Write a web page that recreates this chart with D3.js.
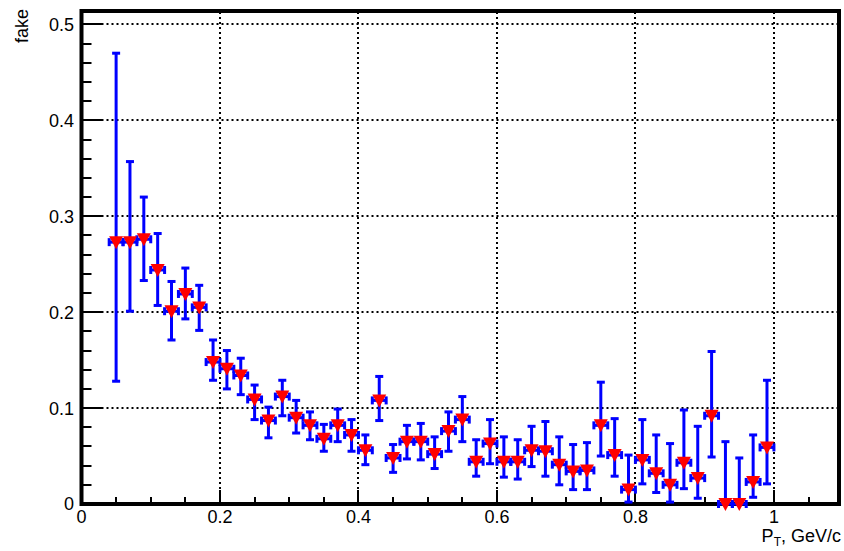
<!DOCTYPE html>
<html>
<head>
<meta charset="utf-8">
<script src="https://cdn.jsdelivr.net/npm/d3@7"></script>
<style>
  body { margin: 0; background: #fff; }
  svg text { font-family: "Liberation Sans", Arial, sans-serif; fill: #000; }
</style>
</head>
<body>
<div id="chart"></div>
<script>

// bin centres, pT in GeV/c
var pt = [0.05, 0.07, 0.09, 0.11, 0.13, 0.15, 0.17, 0.19, 0.21, 0.23, 0.25, 0.27,
          0.29, 0.31, 0.33, 0.35, 0.37, 0.39, 0.41, 0.43, 0.45, 0.47, 0.49, 0.51,
          0.53, 0.55, 0.57, 0.59, 0.61, 0.63, 0.65, 0.67, 0.69, 0.71, 0.73, 0.75,
          0.77, 0.79, 0.81, 0.83, 0.85, 0.87, 0.89, 0.91, 0.93, 0.95, 0.97, 0.99];

var fake = [0.273, 0.273, 0.276, 0.244, 0.201, 0.219, 0.205, 0.148, 0.141, 0.134, 0.109, 0.087,
            0.112, 0.090, 0.082, 0.068, 0.082, 0.072, 0.056, 0.108, 0.048, 0.065, 0.065, 0.052,
            0.076, 0.088, 0.044, 0.063, 0.044, 0.044, 0.056, 0.055, 0.041, 0.034, 0.035, 0.082,
            0.051, 0.015, 0.046, 0.032, 0.020, 0.043, 0.027, 0.092, 0.000, 0.000, 0.023, 0.059];

// upper / lower ends of the error bars
var fakeHigh = [0.470, 0.357, 0.320, 0.282, 0.232, 0.246, 0.228, 0.171, 0.160, 0.152, 0.124, 0.101,
                0.129, 0.108, 0.096, 0.083, 0.099, 0.088, 0.072, 0.133, 0.062, 0.082, 0.084, 0.070,
                0.096, 0.112, 0.067, 0.088, 0.070, 0.067, 0.081, 0.086, 0.070, 0.062, 0.064, 0.127,
                0.089, 0.051, 0.088, 0.072, 0.063, 0.098, 0.081, 0.159, 0.065, 0.048, 0.072, 0.129];

var fakeLow = [0.128, 0.201, 0.233, 0.207, 0.171, 0.193, 0.181, 0.129, 0.120, 0.114, 0.088, 0.069,
               0.092, 0.074, 0.067, 0.055, 0.065, 0.055, 0.041, 0.087, 0.033, 0.047, 0.046, 0.037,
               0.055, 0.065, 0.029, 0.042, 0.028, 0.026, 0.039, 0.029, 0.020, 0.015, 0.015, 0.050,
               0.029, 0.002, 0.021, 0.012, 0.002, 0.016, 0.006, 0.049, 0.000, 0.000, 0.007, 0.021];

var binHalf = 0.01;

var xMajor = [0, 0.2, 0.4, 0.6, 0.8, 1];
var xLabels = ["0", "0.2", "0.4", "0.6", "0.8", "1"];
var yMajor = [0, 0.1, 0.2, 0.3, 0.4, 0.5];
var yLabels = ["0", "0.1", "0.2", "0.3", "0.4", "0.5"];

var width = 844, height = 551;
var margin = {left: 81.5, right: 5, top: 11, bottom: 47};

var x = d3.scaleLinear().domain([0, 1.094]).range([margin.left, width - margin.right]);
var y = d3.scaleLinear().domain([0, 0.514]).range([height - margin.bottom, margin.top]);

var svg = d3.select("#chart").append("svg")
    .attr("width", width)
    .attr("height", height);

var x0 = x.range()[0], x1 = x.range()[1],
    y0 = y.range()[0], y1 = y.range()[1];

// dotted grid, snapped to whole pixels so the dots stay crisp
var grid = svg.append("g")
    .attr("stroke", "#000")
    .attr("stroke-width", 2)
    .attr("stroke-dasharray", "2,3");

grid.selectAll(".gx")
    .data(xMajor.filter(function (d) { return d > 0; }))
    .enter().append("line")
    .attr("x1", function (d) { return Math.round(x(d)); })
    .attr("x2", function (d) { return Math.round(x(d)); })
    .attr("y1", y0)
    .attr("y2", y1);

grid.selectAll(".gy")
    .data(yMajor.filter(function (d) { return d > 0; }))
    .enter().append("line")
    .attr("x1", x0)
    .attr("x2", x1)
    .attr("y1", function (d) { return Math.round(y(d)); })
    .attr("y2", function (d) { return Math.round(y(d)); });

// ticks, pointing inward
var xMinor = d3.range(0, 1.0801, 0.05);
var yMinor = d3.range(0, 0.5001, 0.02);

var ticks = svg.append("g").attr("stroke", "#000").attr("stroke-width", 2);

ticks.selectAll(".xt")
    .data(xMinor)
    .enter().append("line")
    .attr("x1", function (d) { return Math.round(x(d)); })
    .attr("x2", function (d) { return Math.round(x(d)); })
    .attr("y1", y0)
    .attr("y2", function (d) {
        var major = Math.abs(d * 5 - Math.round(d * 5)) < 1e-6;
        return y0 - (major ? 14 : 7);
    });

ticks.selectAll(".yt")
    .data(yMinor)
    .enter().append("line")
    .attr("y1", function (d) { return Math.round(y(d)); })
    .attr("y2", function (d) { return Math.round(y(d)); })
    .attr("x1", x0)
    .attr("x2", function (d) {
        var major = Math.abs(d * 10 - Math.round(d * 10)) < 1e-6;
        return x0 + (major ? 21 : 10);
    });

// frame
svg.append("rect")
    .attr("x", x0)
    .attr("y", y1)
    .attr("width", x1 - x0)
    .attr("height", y0 - y1)
    .attr("fill", "none")
    .attr("stroke", "#000")
    .attr("stroke-width", 4);

// tick labels
svg.selectAll(".xl")
    .data(xMajor)
    .enter().append("text")
    .attr("x", function (d) { return x(d); })
    .attr("y", 523)
    .attr("text-anchor", "middle")
    .attr("font-size", 18)
    .text(function (d, i) { return xLabels[i]; });

svg.selectAll(".yl")
    .data(yMajor)
    .enter().append("text")
    .attr("x", 74)
    .attr("y", function (d) { return y(d); })
    .attr("dy", "0.36em")
    .attr("text-anchor", "end")
    .attr("font-size", 18)
    .text(function (d, i) { return yLabels[i]; });

// axis titles
svg.append("text")
    .attr("transform", "translate(28,9) rotate(-90)")
    .attr("text-anchor", "end")
    .attr("font-size", 18)
    .text("fake");

var xt = svg.append("text")
    .attr("x", 841)
    .attr("y", 542)
    .attr("text-anchor", "end")
    .attr("font-size", 18);
xt.append("tspan").text("P");
xt.append("tspan").attr("font-size", 12).attr("dy", 4).text("T");
xt.append("tspan").attr("dy", -4).text(", GeV/c");

// error bars
var pts = pt.map(function (d, i) {
    return {x: d, y: fake[i], lo: fakeLow[i], hi: fakeHigh[i]};
});

var err = svg.append("g").attr("stroke", "#0000ff").attr("fill", "#0000ff");

var eb = err.selectAll(".e").data(pts).enter().append("g");

eb.append("line")
    .attr("stroke-width", 3)
    .attr("x1", function (d) { return x(d.x); })
    .attr("x2", function (d) { return x(d.x); })
    .attr("y1", function (d) { return y(d.lo); })
    .attr("y2", function (d) { return y(d.hi); });

eb.append("line")
    .attr("stroke-width", 3)
    .attr("x1", function (d) { return x(d.x - binHalf); })
    .attr("x2", function (d) { return x(d.x + binHalf); })
    .attr("y1", function (d) { return y(d.y); })
    .attr("y2", function (d) { return y(d.y); });

// caps
eb.each(function (d) {
    var g = d3.select(this), cx = x(d.x), cy = y(d.y);
    [d.lo, d.hi].forEach(function (v) {
        if (v === d.y) return;
        g.append("rect").attr("stroke", "none")
            .attr("x", cx - 4).attr("y", y(v) - 1.5).attr("width", 8).attr("height", 3);
    });
    [d.x - binHalf, d.x + binHalf].forEach(function (v) {
        g.append("rect").attr("stroke", "none")
            .attr("x", x(v) - 1.5).attr("y", cy - 4).attr("width", 3).attr("height", 8);
    });
});

// markers: full triangle down
svg.append("g").selectAll("path")
    .data(pts)
    .enter().append("path")
    .attr("fill", "#ff0000")
    .attr("transform", function (d) { return "translate(" + x(d.x) + "," + y(d.y) + ")"; })
    .attr("d", "M-7,-6L7,-6L0,7Z");

</script>
</body>
</html>
